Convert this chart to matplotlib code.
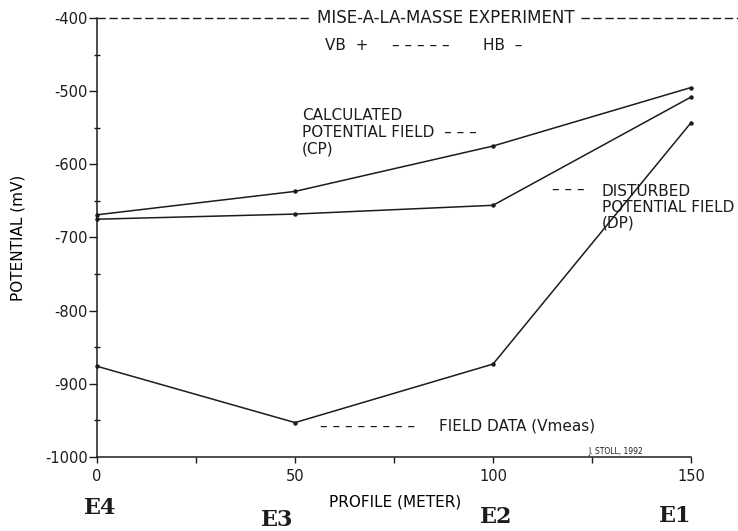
import numpy as np
import matplotlib
matplotlib.use("Agg")
import matplotlib.pyplot as plt
from matplotlib.ticker import MultipleLocator

# profile positions (m) and electrode names
profile_m = [0, 50, 100, 150]
electrodes = ["E4", "E3", "E2", "E1"]

# potentials along the profile (mV)
calculated_cp = [-669, -637, -575, -495]
disturbed_dp = [-675, -668, -656, -508]
field_vmeas = [-876, -953, -873, -543]

INK = "#1c1c1c"
plt.rcParams["font.family"] = ["DejaVu Sans"]
plt.rcParams["text.color"] = INK
plt.rcParams["axes.unicode_minus"] = False

fig = plt.figure(figsize=(7.38, 5.31), dpi=100)
ax = fig.add_axes([0.1314, 0.1394, 0.805, 0.8267])

for series in (calculated_cp, disturbed_dp, field_vmeas):
    ax.plot(profile_m, series, color=INK, linewidth=1.1, marker="o",
            markersize=2.2, clip_on=False, zorder=5)

ax.set_xlim(0, 150)
ax.set_ylim(-1000, -400)
ax.xaxis.set_major_locator(MultipleLocator(50))
ax.xaxis.set_minor_locator(MultipleLocator(25))
ax.yaxis.set_major_locator(MultipleLocator(100))
ax.yaxis.set_minor_locator(MultipleLocator(50))

for side in ("top", "right"):
    ax.spines[side].set_visible(False)
for side in ("left", "bottom"):
    ax.spines[side].set_color(INK)
    ax.spines[side].set_linewidth(1.1)

ax.tick_params(axis="y", which="major", direction="out", length=6, width=1.0,
               color=INK, labelsize=10.5, labelcolor=INK, pad=0.5)
ax.tick_params(axis="y", which="minor", direction="inout", length=5, width=1.0, color=INK)
ax.tick_params(axis="x", which="both", direction="out", length=4, width=1.0,
               color=INK, labelsize=10.5, labelcolor=INK, pad=5)

ax.set_xlabel("PROFILE (METER)", fontsize=11)
ax.xaxis.set_label_coords(0.502, -0.086)
ax.set_ylabel("POTENTIAL (mV)", fontsize=11)
ax.yaxis.set_label_coords(-0.12, 0.5)

# dashed top border broken by the title
dash = dict(color=INK, linewidth=1.0, dashes=(6, 2.6), clip_on=False,
            transform=ax.transAxes)
ax.plot([0, 0.36], [1, 1], **dash)
ax.plot([0.815, 1.08], [1, 1], **dash)
ax.text(88, -400, "MISE-A-LA-MASSE EXPERIMENT", ha="center",
        va="center", fontsize=12)

txt = dict(fontsize=11, va="center", ha="left", clip_on=False)
ax.text(57.6, -437, "VB  +", **txt)
ax.text(74.5, -437, "\u2013 \u2013 \u2013 \u2013 \u2013", **txt)
ax.text(97.5, -437, "HB  \u2013", **txt)

ax.text(51.8, -523, "CALCULATED\nPOTENTIAL FIELD  \u2013 \u2013 \u2013\n(CP)",
        fontsize=11, va="top", ha="left", linespacing=1.15)

ax.text(114.9, -634, "\u2013 \u2013 \u2013", **txt)
ax.text(127.5, -627, "DISTURBED\nPOTENTIAL FIELD\n(DP)",
        fontsize=11, va="top", ha="left", linespacing=1.05, clip_on=False)

ax.text(56.3, -958, "\u2013 \u2013 \u2013 \u2013 \u2013 \u2013 \u2013 \u2013", **txt)
ax.text(86.4, -958, "FIELD DATA (Vmeas)", **txt)

ax.text(124, -993, "J. STOLL, 1992", fontsize=5.5, va="center", ha="left")

# electrode names under the profile positions
e_x = [0.8, 45.5, 100.8, 146]
e_y = [-1070, -1086, -1082, -1080]
for name, x, y in zip(electrodes, e_x, e_y):
    ax.text(x, y, name, fontsize=16, fontweight="bold", family="DejaVu Serif",
            ha="center", va="center", clip_on=False)

fig.savefig("out.png", dpi=100, facecolor="white")
